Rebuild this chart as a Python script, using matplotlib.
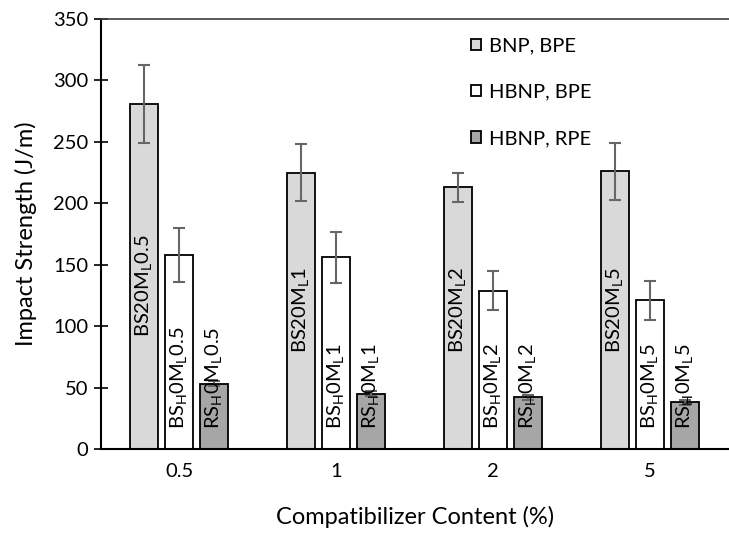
import numpy as np
import matplotlib
matplotlib.use("Agg")
import matplotlib.pyplot as plt

plt.rcParams['font.family'] = ['Lato', 'DejaVu Sans']
plt.rcParams['mathtext.fontset'] = 'custom'
plt.rcParams['mathtext.rm'] = 'Lato'

# -----------------------------------------------------------------------------
# Data
# -----------------------------------------------------------------------------
contents = ["0.5", "1", "2", "5"]
series_names = ["BNP, BPE", "HBNP, BPE", "HBNP, RPE"]

bnp_bpe = [281, 225, 213, 226]
bnp_bpe_err = [32, 23, 12, 23]
hbnp_bpe = [158, 156, 129, 121]
hbnp_bpe_err = [22, 21, 16, 16]
hbnp_rpe = [53, 45, 42, 38]
hbnp_rpe_err = [2, 2, 2, 2]

bnp_labels = ["BS20M$_\\mathregular{L}$" + c for c in contents]
hbpe_labels = ["BS$_\\mathregular{H}$0M$_\\mathregular{L}$" + c for c in contents]
rpe_labels = ["RS$_\\mathregular{H}$0M$_\\mathregular{L}$" + c for c in contents]

# -----------------------------------------------------------------------------
# Plot
# -----------------------------------------------------------------------------
FS = 14.5
LABEL_FS = 17

fig = plt.figure(figsize=(7.29, 5.33), dpi=100)
ax = fig.add_axes([0.1385, 0.1576, 0.861, 0.8066])

x = np.arange(len(contents))
width = 0.178
offset = 0.223
colors = ["#d9d9d9", "#ffffff", "#a6a6a6"]
values = [bnp_bpe, hbnp_bpe, hbnp_rpe]
errors = [bnp_bpe_err, hbnp_bpe_err, hbnp_rpe_err]

for i, (vals, errs, col, name) in enumerate(zip(values, errors, colors, series_names)):
    pos = x + (i - 1) * offset
    ax.bar(pos, vals, width, color=col, edgecolor="black", linewidth=1.3,
           label=name, zorder=2)
    ax.errorbar(pos, vals, yerr=errs, fmt="none", ecolor="#666666",
                elinewidth=1.5, capsize=4, capthick=1.5, zorder=3)

# labels written inside the bars (vertical centre of the grey-bar labels)
bnp_label_mid = [133, 113, 113, 113]
for i in range(len(contents)):
    ax.text(x[i] - offset, bnp_label_mid[i], bnp_labels[i], rotation=90,
            ha="center", va="center", fontsize=FS, zorder=4)
    ax.text(x[i], 16, hbpe_labels[i], rotation=90, ha="center",
            va="bottom", fontsize=FS, zorder=4)
    ax.text(x[i] + offset, 16, rpe_labels[i], rotation=90, ha="center",
            va="bottom", fontsize=FS, zorder=4)

ax.set_xlim(-0.5, 3.5)
ax.set_ylim(0, 350)
ax.set_yticks(np.arange(0, 351, 50))
ax.set_xticks(x)
ax.set_xticklabels(contents)
ax.tick_params(axis="x", length=0, pad=10, labelsize=FS)
ax.tick_params(axis="y", direction="inout", length=10, width=1.2, labelsize=FS, pad=4)

ax.set_xlabel("Compatibilizer Content (%)", fontsize=LABEL_FS, labelpad=19)
ax.set_ylabel("Impact Strength (J/m)", fontsize=LABEL_FS, labelpad=12)

ax.spines["right"].set_visible(False)
ax.spines["left"].set_linewidth(1.5)
ax.spines["bottom"].set_linewidth(1.5)
ax.spines["top"].set_linewidth(1.2)
ax.spines["top"].set_color("#404040")

ax.legend(loc="upper left", bbox_to_anchor=(0.59, 0.957), frameon=False,
          fontsize=FS, handlelength=0.5, handleheight=0.5, handletextpad=0.4,
          labelspacing=1.45, borderpad=0, borderaxespad=0)

fig.savefig("out.png", dpi=100)
